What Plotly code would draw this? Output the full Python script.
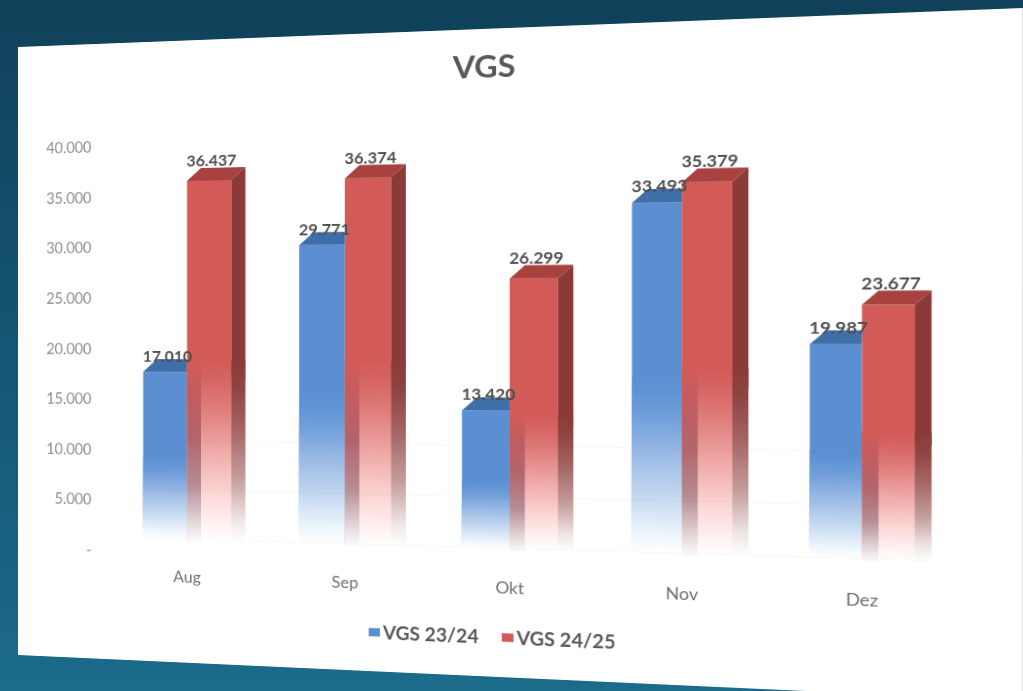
import numpy as np
import plotly.graph_objects as go

# ---- data ----
months = ["Aug", "Sep", "Okt", "Nov", "Dez"]
vgs_2324 = [17010, 29771, 13420, 33493, 19987]
vgs_2425 = [36437, 36374, 26299, 35379, 23677]
tick_vals = [0, 5000, 10000, 15000, 20000, 25000, 30000, 35000, 40000]
tick_text = ["-", "5.000", "10.000", "15.000", "20.000", "25.000", "30.000", "35.000", "40.000"]
faint_grid = [0, 5000, 10000]

# ---- page perspective (flat chart -> tilted sheet) ----
W, H = 1023, 691
src = [(0, 0), (W, 0), (W, H), (0, H)]
dst = [(18, 47), (1023, 8), (1023, 701), (18, 655)]
A, b = [], []
for (x, y), (u, v) in zip(src, dst):
    A.append([x, y, 1, 0, 0, 0, -u * x, -u * y]); b.append(u)
    A.append([0, 0, 0, x, y, 1, -v * x, -v * y]); b.append(v)
h = np.linalg.solve(np.array(A, float), np.array(b, float))
Hm = np.array([[h[0], h[1], h[2]], [h[3], h[4], h[5]], [h[6], h[7], 1.0]])
Hi = np.linalg.inv(Hm)


def back(u, v):
    p = Hi @ np.array([u, v, 1.0])
    return p[0] / p[2], p[1] / p[2]


# ---- where the chart sits on the flat sheet ----
u0 = back(187, 541)[0]
u4 = back(862, 557)[0]
px_per_cat = (u4 - u0) / 4
XMIN, XMAX = -0.62, 4.6
pl = u0 + XMIN * px_per_cat
pr = u0 + XMAX * px_per_cat

v0 = (back(187, 541)[1] + back(862, 557)[1]) / 2
k = (v0 - back(187, 181)[1]) / 36437
YMIN, YMAX = -1800, 43000
pb = v0 - YMIN * k
pt = v0 - YMAX * k

L0 = back(84, 550)[1]
L40 = back(70, 148)[1]
kl = (L0 - L40) / 40000
y2min = (L0 - pb) / kl
y2max = (L0 - pt) / kl

BW = 0.285
DX = 0.09
DY = 1300
FADE = 0.5
LOW = -120
EPS = 0.006
BLUE, BLUE_TOP = "#5b8fd2", "#3f6fa8"
RED, RED_TOP, RED_SIDE = "#d25b58", "#a8423f", "#8a3b39"

FADE_BLUE = [[0, "#ffffff"], [0.08, "#f4f9fe"], [0.3, "#c9dcf1"], [0.55, "#9cbce5"], [0.78, "#719fda"], [0.92, "#6093d4"], [1, BLUE]]
FADE_RED = [[0, "#ffffff"], [0.08, "#fff4f3"], [0.28, "#fbd3d1"], [0.5, "#efa9a7"], [0.72, "#df7f7c"], [0.9, "#d56461"], [1, RED]]
FADE_SIDE = [[0, "#ffffff"], [0.12, "#efe6e6"], [0.35, "#c49d9c"], [0.62, "#a46563"], [0.85, "#8f4442"], [1, RED_SIDE]]
BAND = [[0, "#ffffff"], [0.1, "#e6dcdf"], [0.32, "#b58c92"], [0.58, "#b3646c"], [0.82, "#c25c5f"], [1, RED]]


def poly(xs, ys, color=None, grad=None):
    kw = dict(x=xs + xs[:1], y=ys + ys[:1], mode="lines", line=dict(width=0),
              fill="toself", hoverinfo="skip", showlegend=False)
    if grad is not None:
        kw["fillgradient"] = dict(type="vertical", colorscale=grad, start=min(ys), stop=max(ys))
    else:
        kw["fillcolor"] = color
    return go.Scatter(**kw)


fig = go.Figure()
fig.add_bar(name="VGS 23/24", x=list(range(5)), y=vgs_2324, width=BW, offset=-BW, marker=dict(color=BLUE, line=dict(width=0)))
fig.add_bar(name="VGS 24/25", x=list(range(5)), y=vgs_2425, width=BW, offset=0, marker=dict(color=RED, line=dict(width=0)))

for i in range(5):
    b_v, r_v = vgs_2324[i], vgs_2425[i]
    bt, rt = b_v * FADE, r_v * FADE
    x0, x1, x2 = i - BW, i, i + BW
    fig.add_trace(poly([x0, x0 + DX, x1, x1], [b_v, b_v + DY, b_v + DY, b_v], color=BLUE_TOP))
    fig.add_trace(poly([x0 - EPS, x1, x1, x0], [LOW, LOW, bt, bt], grad=FADE_BLUE))
    fig.add_trace(poly([x2, x2 + DX, x2 + DX, x2], [rt * 0.9, rt * 0.9, r_v + DY, r_v], color=RED_SIDE))
    fig.add_trace(poly([x1, x1 + DX, x2 + DX, x2], [r_v, r_v + DY, r_v + DY, r_v], color=RED_TOP))
    fig.add_trace(poly([x1, x2 + EPS, x2, x1], [LOW, LOW, rt, rt], grad=FADE_RED))
    fig.add_trace(poly([x2, x2 + DX, x2 + DX, x2], [LOW, LOW, rt, rt], grad=FADE_SIDE))
    fig.add_trace(poly([x1, x1 + DX, x1 + DX, x1], [LOW * 3, LOW * 3, rt, rt], grad=BAND))

# faint gridlines that show through the faded parts of the bars
for g in faint_grid:
    fig.add_trace(go.Scatter(x=[-BW, 4 + BW + DX], y=[g, g], mode="lines",
                             line=dict(color="rgba(110,90,100,0.05)", width=1),
                             hoverinfo="skip", showlegend=False))


def fmt(v):
    return f"{v:,}".replace(",", ".")


for off, lift, vals in ((-BW / 2 + 0.015, 600, vgs_2324), (BW / 2 + 0.015, 1050, vgs_2425)):
    fig.add_trace(go.Scatter(x=[i + off for i in range(5)], y=[v + lift for v in vals],
                             text=[fmt(v) for v in vals], mode="text", textposition="top center",
                             textfont=dict(family="Lato", size=17.5, color="#4f4f4f", weight="bold"),
                             hoverinfo="skip", showlegend=False))
# carries the value axis
fig.add_trace(go.Scatter(x=[None], y=[None], yaxis="y2", showlegend=False, hoverinfo="skip"))

tx, ty = back(484, 67)
lx, ly = back(345, 631)
fig.update_layout(
    width=W, height=H, autosize=False, showlegend=True,
    paper_bgcolor="white", plot_bgcolor="white",
    margin=dict(l=0, r=0, t=0, b=0, autoexpand=False),
    barmode="overlay",
    title=dict(text="VGS", x=tx / W, y=1 - ty / H, xref="paper", yref="paper", xanchor="center", yanchor="middle",
               font=dict(family="Lato", size=33, color="#595959", weight="bold")),
    legend=dict(orientation="h", xref="container", yref="container", x=lx / W, y=1 - ly / H,
                xanchor="left", yanchor="middle", font=dict(family="Lato", size=20, color="#595959", weight="bold"),
                bgcolor="rgba(0,0,0,0)", itemwidth=30, entrywidth=93),
    xaxis=dict(domain=[pl / W, pr / W], range=[XMIN, XMAX], tickvals=list(range(5)), ticktext=months,
               showgrid=False, zeroline=False, showline=False, ticks="", ticklabelstandoff=10,
               tickfont=dict(family="Lato", size=17.5, color="#707070")),
    yaxis=dict(domain=[1 - pb / H, 1 - pt / H], range=[YMIN, YMAX], visible=False),
    yaxis2=dict(overlaying="y", side="left", range=[y2min, y2max], tickvals=tick_vals, ticktext=tick_text,
                showgrid=False, zeroline=False, showline=False, ticks="", anchor="x",
                tickfont=dict(family="Lato", size=16.5, color="#8c8c8c")),
)

m = ",".join(f"{v:.10g}" for v in [Hm[0, 0], Hm[1, 0], 0, Hm[2, 0], Hm[0, 1], Hm[1, 1], 0, Hm[2, 1],
                                   0, 0, 1, 0, Hm[0, 2], Hm[1, 2], 0, Hm[2, 2]])
post = f"""
var g = document.getElementById('{{plot_id}}');
document.documentElement.style.overflow = 'hidden';
document.documentElement.style.height = '100%';
document.body.style.margin = '0';
document.body.style.height = '100%';
document.body.style.overflow = 'hidden';
document.body.style.background = 'linear-gradient(180deg,#10405a 0%,#155a78 60%,#1c6b8b 100%)';
g.querySelectorAll('.legend .legendpoints').forEach(function(p) {{
  p.setAttribute('transform', 'translate(11,0) scale(1,0.75)');
}});
g.style.transformOrigin = '0 0';
g.style.transform = 'matrix3d({m})';
g.style.filter = 'blur(0.6px)';
"""
fig.write_html("out.html", post_script=post)
